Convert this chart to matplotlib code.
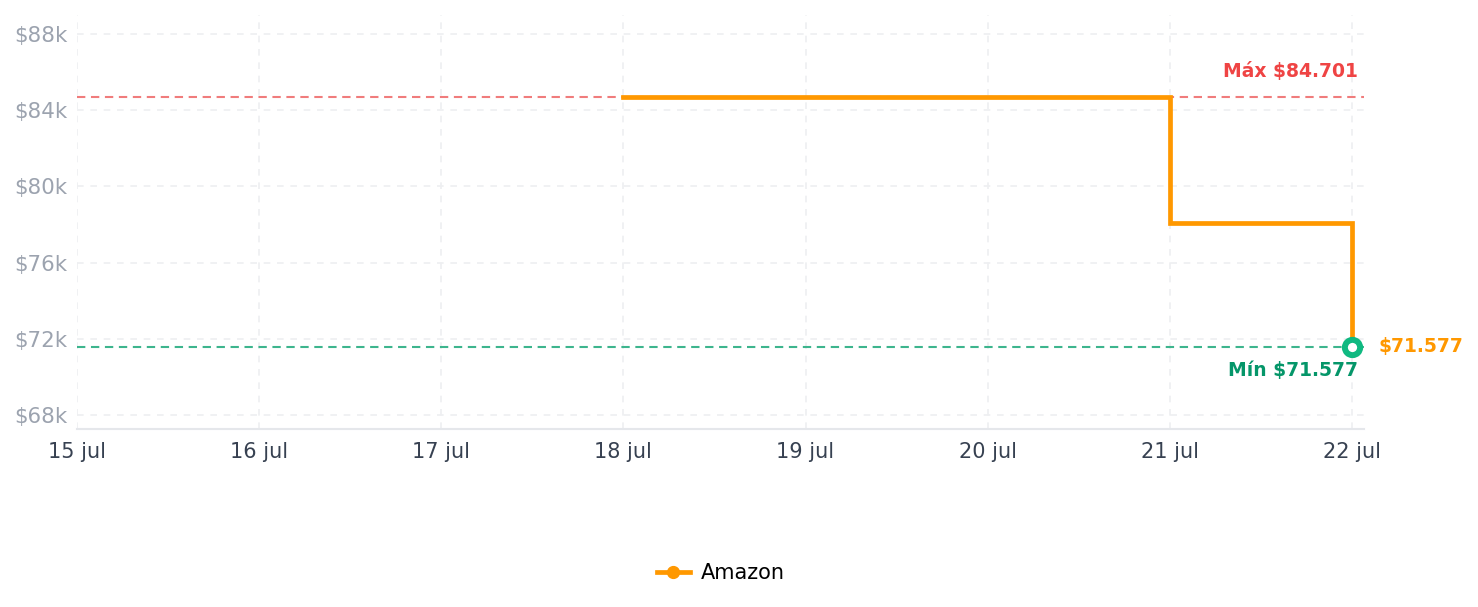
import matplotlib
matplotlib.use("Agg")
import matplotlib.pyplot as plt
import matplotlib.dates as mdates
from matplotlib.lines import Line2D
import pandas as pd

# ---- data ----
dates = pd.to_datetime(["2024-07-18", "2024-07-21", "2024-07-22"])
prices = [84701, 78100, 71577]
series_name = "Amazon"
max_price = 84701
min_price = 71577
x_ticks = pd.date_range("2024-07-15", "2024-07-22", freq="D")
x_tick_labels = ["15 jul", "16 jul", "17 jul", "18 jul", "19 jul", "20 jul", "21 jul", "22 jul"]
y_ticks = [68000, 72000, 76000, 80000, 84000, 88000]
y_tick_labels = ["$68k", "$72k", "$76k", "$80k", "$84k", "$88k"]

ORANGE = "#FF9800"
RED_LINE = "#F07C7C"
RED_TEXT = "#EF4444"
GREEN_LINE = "#3DB58D"
GREEN_TEXT = "#059669"
GREEN_MARK = "#10B981"
GRID = "#EEEFF1"

fig = plt.figure(figsize=(14.78, 6.07), dpi=100)
ax = fig.add_axes([77/1478, 1-429/607, (1364-77)/1478, (429-15)/607])

x0 = mdates.date2num(x_ticks[0])
ax.set_xlim(x0, x0 + 7.066)
ax.set_ylim(67265, 89000)

ax.set_xticks(x_ticks)
ax.set_xticklabels(x_tick_labels, fontsize=15, color="#374151")
ax.set_yticks(y_ticks)
ax.set_yticklabels(y_tick_labels, fontsize=15.4, color="#9CA3AF")
ax.tick_params(axis="both", length=0)
ax.tick_params(axis="y", pad=7)
ax.tick_params(axis="x", pad=9)

ax.grid(True, color=GRID, linestyle=(0, (4, 4)), linewidth=1.2)
ax.set_axisbelow(True)
for s in ["top", "right", "left"]:
    ax.spines[s].set_visible(False)
ax.spines["bottom"].set_color("#E5E7EB")
ax.spines["bottom"].set_linewidth(1.5)

# reference lines
ax.axhline(max_price, color=RED_LINE, linewidth=1.5, dashes=(4, 2.7), zorder=2)
ax.axhline(min_price, color=GREEN_LINE, linewidth=1.5, dashes=(4, 2.7), zorder=2)

# price line
ax.plot(dates, prices, drawstyle="steps-post", color=ORANGE, linewidth=3.4,
        solid_joinstyle="miter", zorder=3)
ax.plot([dates[-1]], [prices[-1]], marker="o", markersize=11, markerfacecolor="white",
        markeredgecolor=GREEN_MARK, markeredgewidth=4.3, zorder=4)

last = dates[-1]
ax.annotate(f"Máx ${max_price/1000:.3f}", xy=(last, max_price), xytext=(6, 25),
            textcoords="offset pixels", ha="right", va="center",
            fontsize=13.5, fontweight="bold", color=RED_TEXT)
ax.annotate(f"Mín ${min_price/1000:.3f}", xy=(last, min_price), xytext=(6, -24),
            textcoords="offset pixels", ha="right", va="center",
            fontsize=13.5, fontweight="bold", color=GREEN_TEXT)
ax.annotate(f"${prices[-1]/1000:.3f}", xy=(last, prices[-1]), xytext=(27, 0),
            textcoords="offset pixels", ha="left", va="center",
            fontsize=13.5, fontweight="bold", color=ORANGE, annotation_clip=False)

handle = Line2D([0], [0], color=ORANGE, linewidth=3.4, marker="o", markersize=8.5)
ax.legend([handle], [series_name], loc="center", bbox_to_anchor=(0.5, (429-573)/414),
          frameon=False, fontsize=15, handlelength=1.6, handletextpad=0.5)

fig.savefig("out.png", dpi=100)
